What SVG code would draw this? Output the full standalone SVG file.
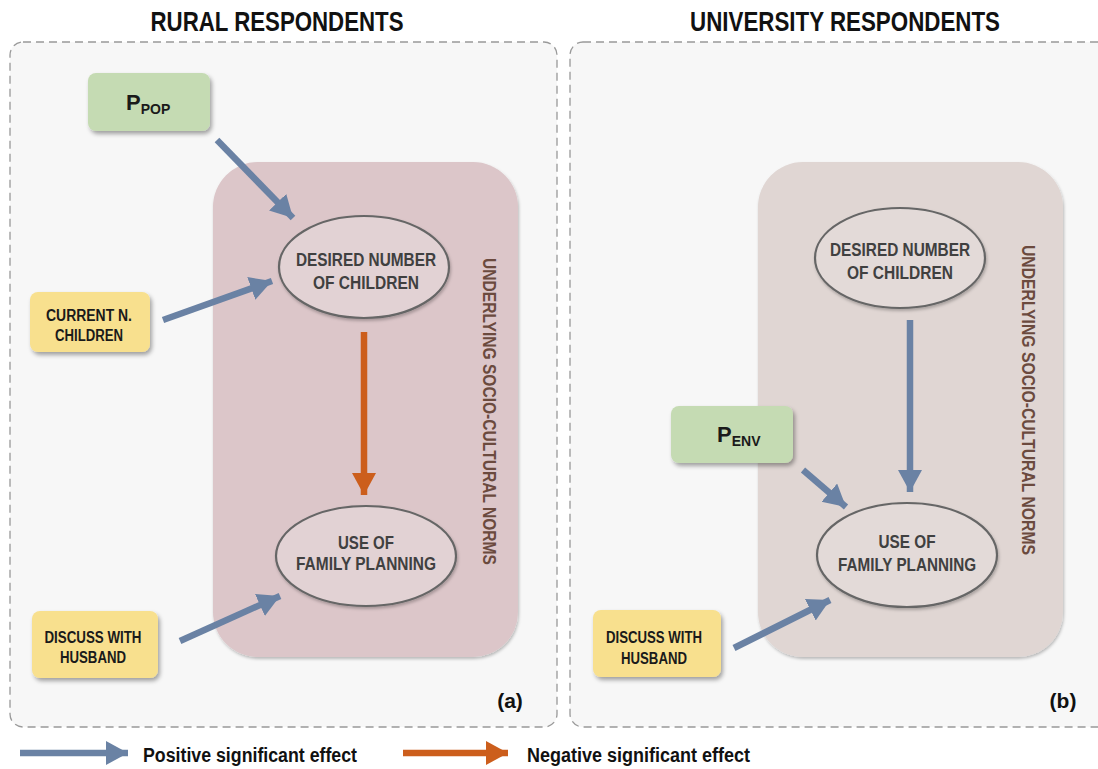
<svg xmlns="http://www.w3.org/2000/svg" width="1098" height="769" viewBox="0 0 1098 769">
<style>
  .title{font-family:"Liberation Sans",Arial,sans-serif;font-weight:bold;font-size:28px;fill:#111;}
  .panel{fill:#f7f7f7;stroke:#999;stroke-width:1.3;stroke-dasharray:8 5;}
  .node{font-family:"Liberation Sans",Arial,sans-serif;font-weight:bold;font-size:18px;fill:#404040;text-anchor:middle;}
  .box{font-family:"Liberation Sans",Arial,sans-serif;font-weight:bold;font-size:16px;fill:#1a1a1a;text-anchor:middle;}
  .pv{font-family:"Liberation Sans",Arial,sans-serif;font-weight:bold;font-size:22px;fill:#1a1a1a;}
  .vert{font-family:"Liberation Sans",Arial,sans-serif;font-weight:bold;font-size:19px;fill:#6b4a3e;}
  .lab{font-family:"Liberation Sans",Arial,sans-serif;font-weight:bold;font-size:21px;fill:#111;}
  .leg{font-family:"Liberation Sans",Arial,sans-serif;font-weight:bold;font-size:20px;fill:#111;}
  .green{fill:#c5dbb3;}
  .yellow{fill:#f8e08e;}
  .ell{stroke:#666;stroke-width:2.2;}
  .pos{stroke:#6a82a4;stroke-width:6.5;fill:none;}
  .neg{stroke:#cc5e1c;stroke-width:6.5;fill:none;}
</style>
<defs>
  <filter id="sh" x="-20%" y="-20%" width="150%" height="150%">
    <feDropShadow dx="2" dy="3" stdDeviation="2" flood-color="#000" flood-opacity="0.35"/>
  </filter>
  <filter id="sh2" x="-10%" y="-10%" width="130%" height="130%">
    <feDropShadow dx="1" dy="2" stdDeviation="1.5" flood-color="#000" flood-opacity="0.25"/>
  </filter>
  <marker id="hb" markerUnits="userSpaceOnUse" markerWidth="26" markerHeight="26" refX="22" refY="12" orient="auto">
    <polygon points="0,0 22,12 0,24" fill="#6a82a4"/>
  </marker>
  <marker id="ho" markerUnits="userSpaceOnUse" markerWidth="26" markerHeight="26" refX="22" refY="12" orient="auto">
    <polygon points="0,0 22,12 0,24" fill="#cc5e1c"/>
  </marker>
</defs>
<rect width="1098" height="769" fill="#ffffff"/>

<g id="panel-a">
  <text class="title" x="277" y="31" text-anchor="middle" textLength="253" lengthAdjust="spacingAndGlyphs">RURAL RESPONDENTS</text>
  <rect class="panel" x="10" y="42" width="547" height="685" rx="13"/>
  <rect x="213" y="162" width="305" height="495" rx="45" fill="#dcc6c9" filter="url(#sh2)"/>
  <text class="vert" transform="translate(483,258) rotate(90)" textLength="307" lengthAdjust="spacingAndGlyphs">UNDERLYING SOCIO-CULTURAL  NORMS</text>
  <text class="lab" x="510" y="708" text-anchor="middle">(a)</text>
</g>

<g id="panel-b">
  <text class="title" x="845" y="31" text-anchor="middle" textLength="310" lengthAdjust="spacingAndGlyphs">UNIVERSITY RESPONDENTS</text>
  <rect class="panel" x="570" y="42" width="545" height="685" rx="13"/>
  <rect x="758" y="162" width="305" height="495" rx="45" fill="#e0d6d3" filter="url(#sh2)"/>
  <text class="vert" transform="translate(1022,245) rotate(90)" textLength="310" lengthAdjust="spacingAndGlyphs">UNDERLYING SOCIO-CULTURAL  NORMS</text>
  <text class="lab" x="1063" y="708" text-anchor="middle">(b)</text>
</g>

<g id="a-ppop">
  <rect class="green" x="88" y="73" width="122" height="58" rx="8" filter="url(#sh)"/>
  <text class="pv" x="126" y="110">P<tspan font-size="14" dy="4">POP</tspan></text>
</g>
<g id="a-current">
  <rect class="yellow" x="30" y="292" width="120" height="60" rx="8" filter="url(#sh)"/>
  <text class="box" x="89" y="321" textLength="86" lengthAdjust="spacingAndGlyphs">CURRENT  N.</text>
  <text class="box" x="89" y="341" textLength="68" lengthAdjust="spacingAndGlyphs">CHILDREN</text>
</g>
<g id="a-discuss">
  <rect class="yellow" x="32" y="611" width="126" height="67" rx="8" filter="url(#sh)"/>
  <text class="box" x="93" y="643" textLength="97" lengthAdjust="spacingAndGlyphs">DISCUSS WITH</text>
  <text class="box" x="93" y="663" textLength="66" lengthAdjust="spacingAndGlyphs">HUSBAND</text>
</g>
<g id="a-desired">
  <ellipse class="ell" cx="364" cy="267" rx="85" ry="51" fill="#e2d2d4" filter="url(#sh2)"/>
  <text class="node" x="366" y="266" textLength="140" lengthAdjust="spacingAndGlyphs">DESIRED NUMBER</text>
  <text class="node" x="366" y="289" textLength="106" lengthAdjust="spacingAndGlyphs">OF CHILDREN</text>
</g>
<g id="a-fp">
  <ellipse class="ell" cx="366" cy="556" rx="90" ry="50" fill="#e2d2d4" filter="url(#sh2)"/>
  <text class="node" x="366" y="549" textLength="56" lengthAdjust="spacingAndGlyphs">USE OF</text>
  <text class="node" x="366" y="570" textLength="140" lengthAdjust="spacingAndGlyphs">FAMILY PLANNING</text>
</g>

<g id="b-penv">
  <rect class="green" x="671" y="406" width="122" height="57" rx="8" filter="url(#sh)"/>
  <text class="pv" x="717" y="442">P<tspan font-size="14" dy="4">ENV</tspan></text>
</g>
<g id="b-discuss">
  <rect class="yellow" x="593" y="610" width="128" height="67" rx="8" filter="url(#sh)"/>
  <text class="box" x="654" y="643" textLength="96" lengthAdjust="spacingAndGlyphs">DISCUSS WITH</text>
  <text class="box" x="654" y="664" textLength="66" lengthAdjust="spacingAndGlyphs">HUSBAND</text>
</g>
<g id="b-desired">
  <ellipse class="ell" cx="900" cy="258" rx="85" ry="50" fill="#e3dad8" filter="url(#sh2)"/>
  <text class="node" x="900" y="256" textLength="140" lengthAdjust="spacingAndGlyphs">DESIRED NUMBER</text>
  <text class="node" x="900" y="279" textLength="106" lengthAdjust="spacingAndGlyphs">OF CHILDREN</text>
</g>
<g id="b-fp">
  <ellipse class="ell" cx="907" cy="555" rx="90" ry="52" fill="#e3dad8" filter="url(#sh2)"/>
  <text class="node" x="907" y="548" textLength="57" lengthAdjust="spacingAndGlyphs">USE OF</text>
  <text class="node" x="907" y="571" textLength="138" lengthAdjust="spacingAndGlyphs">FAMILY PLANNING</text>
</g>

<g id="connectors">
  <line class="pos" x1="217" y1="140" x2="293" y2="218" marker-end="url(#hb)"/>
  <line class="pos" x1="163" y1="320" x2="272" y2="281" marker-end="url(#hb)"/>
  <line class="neg" x1="364" y1="332" x2="364" y2="495" marker-end="url(#ho)"/>
  <line class="pos" x1="180" y1="641" x2="280" y2="596" marker-end="url(#hb)"/>
  <line class="pos" x1="910" y1="320" x2="910" y2="492" marker-end="url(#hb)"/>
  <line class="pos" x1="803" y1="470" x2="846" y2="507" marker-end="url(#hb)"/>
  <line class="pos" x1="734" y1="648" x2="830" y2="600" marker-end="url(#hb)"/>
</g>

<g id="legend">
  <line class="pos" x1="20" y1="753" x2="128" y2="753" marker-end="url(#hb)"/>
  <text class="leg" x="143" y="762" textLength="214" lengthAdjust="spacingAndGlyphs">Positive significant effect</text>
  <line class="neg" x1="403" y1="753" x2="508" y2="753" marker-end="url(#ho)"/>
  <text class="leg" x="527" y="762" textLength="223" lengthAdjust="spacingAndGlyphs">Negative significant  effect</text>
</g>
</svg>
